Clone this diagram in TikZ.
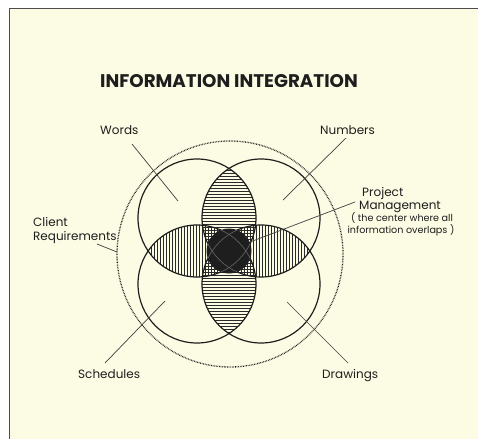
\documentclass[tikz,border=0pt]{standalone}
\usepackage{fontspec}
\setmainfont{Poppins}
\definecolor{bg}{HTML}{FCFBE3}
\definecolor{ink}{HTML}{1E1E1E}
\definecolor{hatchc}{HTML}{2A2A2A}
\begin{document}
\begin{tikzpicture}[x=1pt,y=-1pt,
  ring/.style={draw=ink,line width=1.2pt},
  hatch/.style={draw=hatchc,line width=0.6pt},
  leader/.style={draw=ink!85,line width=0.7pt},
  lbl/.style={inner sep=0pt,anchor=base west,text=ink,font=\fontsize{12}{14}\selectfont},
  small/.style={inner sep=0pt,anchor=base,text=ink,font=\fontsize{9.6}{11}\selectfont}]
\useasboundingbox (0,0) rectangle (478,439);
\fill[white] (0,0) rectangle (478,439);
\fill[bg] (9,8) rectangle (478,439);
\draw[ink!80,line width=0.9pt] (478,8) -- (9,8) -- (9,439);

\coordinate (C) at (229,251);
\coordinate (TL) at (197,218);
\coordinate (TR) at (261,218);
\coordinate (BL) at (197,284);
\coordinate (BR) at (261,284);

% hatched lenses
\begin{scope}
\clip (TL) circle[radius=59pt];
\clip (TR) circle[radius=59pt];
\foreach \y in {152,155,...,290} \draw[hatch] (160,\y) -- (300,\y);
\end{scope}
\begin{scope}
\clip (BL) circle[radius=59pt];
\clip (BR) circle[radius=59pt];
\foreach \y in {212,215,...,350} \draw[hatch] (160,\y) -- (300,\y);
\end{scope}
\begin{scope}
\clip (TL) circle[radius=59pt];
\clip (BL) circle[radius=59pt];
\foreach \x in {130,133,...,270} \draw[hatch] (\x,200) -- (\x,300);
\end{scope}
\begin{scope}
\clip (TR) circle[radius=59pt];
\clip (BR) circle[radius=59pt];
\foreach \x in {190,193,...,330} \draw[hatch] (\x,200) -- (\x,300);
\end{scope}

% four circles
\draw[ring] (TL) circle[radius=59pt];
\draw[ring] (TR) circle[radius=59pt];
\draw[ring] (BL) circle[radius=59pt];
\draw[ring] (BR) circle[radius=59pt];

% center
\node[circle,fill=ink,minimum size=45pt,inner sep=0pt] (pm) at (C) {};
\begin{scope}
\clip (C) circle[radius=22.5pt];
\foreach \c in {TL,TR,BL,BR} \draw[black!60,line width=0.6pt] (\c) circle[radius=59pt];
\end{scope}

% outer dotted circle
\draw[ink,line width=1.3pt,dash pattern=on 0.7pt off 0.9pt] (230,254) circle[radius=113pt];

% title
\node[inner sep=0pt,anchor=base west,text=ink,font=\bfseries\fontsize{18.3}{22}\selectfont] (title) at (100,87) {INFORMATION INTEGRATION};

% labels
\node[lbl] (words) at (100,134) {Words};
\node[lbl] (numbers) at (320,134) {Numbers};
\node[lbl] (proj) at (362,196) {Project};
\node[lbl] (mgmt) at (359,209) {Management};
\node[small] (note1) at (402,221.5) {( the center where all};
\node[small] (note2) at (401,233) {information overlaps )};
\node[lbl] (client) at (33,226.5) {Client};
\node[lbl] (req) at (33,240.5) {Requirements};
\node[lbl] (sched) at (78,378) {Schedules};
\node[lbl] (draw) at (322,378) {Drawings};

% leader ends
\coordinate (w1) at (132,144);  \coordinate (w2) at (178,201);
\coordinate (n1) at (346,138);  \coordinate (n2) at (283,200);
\coordinate (p1) at (355,202);  \coordinate (p2) at (250,242);
\coordinate (c1) at (97,244);   \coordinate (c2) at (117,252);
\coordinate (s1) at (105,363);  \coordinate (s2) at (165,301);
\coordinate (d1) at (348,363);  \coordinate (d2) at (287,302);

\draw[leader] (w1) -- (w2);
\draw[leader] (n1) -- (n2);
\draw[leader] (p1) -- (p2);
\draw[leader] (c1) -- (c2);
\draw[leader] (s1) -- (s2);
\draw[leader] (d1) -- (d2);
\end{tikzpicture}
\end{document}
